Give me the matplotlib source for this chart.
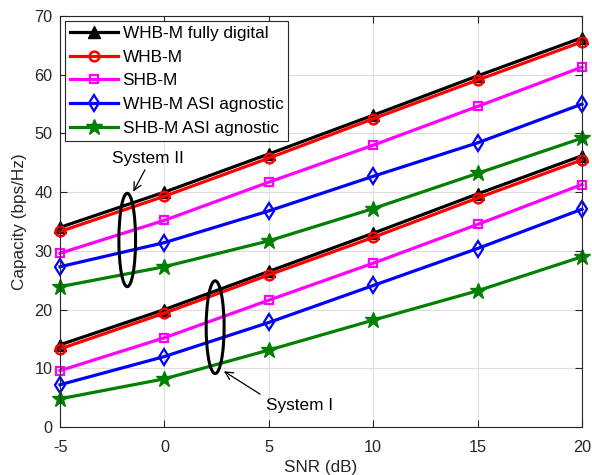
import matplotlib
matplotlib.use("Agg")
import matplotlib.pyplot as plt
from matplotlib.patches import Ellipse

plt.rcParams['font.family'] = ['Liberation Sans', 'DejaVu Sans']

snr = [-5, 0, 5, 10, 15, 20]
labels = ["WHB-M fully digital", "WHB-M", "SHB-M", "WHB-M ASI agnostic", "SHB-M ASI agnostic"]

# System II (upper group)
whb_fd_2 = [34.0, 40.0, 46.5, 53.1, 59.8, 66.3]
whb_2 = [33.3, 39.3, 45.8, 52.5, 59.1, 65.6]
shb_2 = [29.6, 35.2, 41.7, 48.0, 54.6, 61.3]
whb_asi_2 = [27.3, 31.4, 36.8, 42.7, 48.4, 55.0]
shb_asi_2 = [23.9, 27.3, 31.7, 37.2, 43.2, 49.2]

# System I (lower group)
whb_fd_1 = [14.0, 20.0, 26.5, 33.0, 39.7, 46.2]
whb_1 = [13.3, 19.4, 25.9, 32.3, 39.0, 45.5]
shb_1 = [9.6, 15.2, 21.6, 27.9, 34.5, 41.3]
whb_asi_1 = [7.2, 12.0, 17.8, 24.1, 30.4, 37.1]
shb_asi_1 = [4.8, 8.2, 13.1, 18.2, 23.2, 29.0]

styles = [
    dict(color='black', marker='^', markersize=9, markerfacecolor='black'),
    dict(color='red', marker='o', markersize=7, markerfacecolor='none', markeredgewidth=1.8),
    dict(color='#ff00ff', marker='s', markersize=5.5, markerfacecolor='none', markeredgewidth=1.6),
    dict(color='blue', marker='d', markersize=8, markerfacecolor='none', markeredgewidth=1.6),
    dict(color='green', marker='*', markersize=12, markerfacecolor='green'),
]

fig = plt.figure(figsize=(5.92, 4.75), dpi=100)
ax = fig.add_axes([60/592, 1-427/475, 522/592, 411/475])

sys2 = [whb_fd_2, whb_2, shb_2, whb_asi_2, shb_asi_2]
sys1 = [whb_fd_1, whb_1, shb_1, whb_asi_1, shb_asi_1]
handles = []
for lab, st, y2, y1 in zip(labels, styles, sys2, sys1):
    h, = ax.plot(snr, y2, linewidth=2.3, label=lab, clip_on=False, **st)
    ax.plot(snr, y1, linewidth=2.3, clip_on=False, **st)
    handles.append(h)

ax.set_xlim(-5, 20)
ax.set_ylim(0, 70)
ax.set_xticks(snr)
ax.set_xticklabels(['-5', '0', '5', '10', '15', '20'])
ax.set_yticks(range(0, 71, 10))
ax.grid(True, color='#dedede', linewidth=0.8)
ax.set_axisbelow(True)
ax.tick_params(direction='in', top=True, right=True, labelsize=11.7, length=5,
               color='#262626', labelcolor='#262626')
ax.tick_params(axis='x', pad=9)
ax.tick_params(axis='y', pad=5.5)
for s in ax.spines.values():
    s.set_color('#262626')
    s.set_linewidth(0.8)
ax.set_xlabel('SNR (dB)', fontsize=12.3, labelpad=4, color='#262626')
ax.set_ylabel('Capacity (bps/Hz)', fontsize=12.3, labelpad=5, color='#262626')

leg = ax.legend(handles=handles, loc='upper left', fontsize=12.4, frameon=True, fancybox=False,
                edgecolor='#262626', borderaxespad=0.28, handlelength=2.8, borderpad=0.3,
                labelspacing=0.5, handletextpad=0.25, framealpha=1)
leg.get_frame().set_linewidth(0.8)

# ellipses
ax.add_patch(Ellipse((-1.78, 31.85), 0.8, 15.9, fill=False, edgecolor='black', linewidth=2.2, zorder=5))
ax.add_patch(Ellipse((2.43, 17.0), 0.86, 15.8, fill=False, edgecolor='black', linewidth=2.2, zorder=5))

ax.annotate('', xy=(-1.49, 40.1), xytext=(-0.93, 43.8),
            arrowprops=dict(arrowstyle='->', color='black', lw=0.9, shrinkA=0, shrinkB=0,
                            mutation_scale=14))
ax.text(-0.77, 45.8, 'System II', fontsize=12.4, ha='center', va='center')
ax.annotate('', xy=(2.85, 9.5), xytext=(4.58, 5.6),
            arrowprops=dict(arrowstyle='->', color='black', lw=0.9, shrinkA=0, shrinkB=0,
                            mutation_scale=14))
ax.text(6.49, 3.58, 'System I', fontsize=12.4, ha='center', va='center')

fig.savefig('out.png', dpi=100)
